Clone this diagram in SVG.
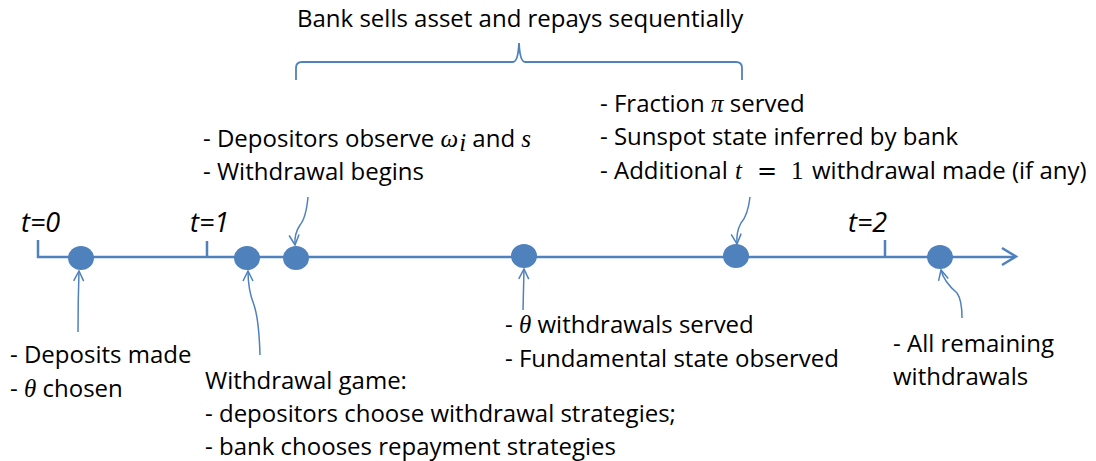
<svg xmlns="http://www.w3.org/2000/svg" width="1096" height="461" viewBox="0 0 1096 461">
<style>
text{font-family:"Open Sans","Liberation Sans",sans-serif;font-size:24px;fill:#000}
.m{font-family:"Liberation Serif","DejaVu Serif",serif;font-style:italic;font-size:25px}
.mu{font-family:"Liberation Serif","DejaVu Serif",serif;font-size:25px}
.eq{font-family:"DejaVu Serif",serif;font-size:24px}
.tl{font-style:italic;font-size:27px}
.ax{stroke:#4F81BD;stroke-width:2.5;fill:none}
.ar{stroke:#4F81BD;stroke-width:1.5;fill:none;marker-end:url(#ah)}
.dot{fill:#4F81BD}
</style>
<defs>
<marker id="ah" viewBox="0 0 12 12" refX="11" refY="6" markerWidth="12" markerHeight="12" markerUnits="userSpaceOnUse" orient="auto">
<path d="M1,1 L11,6 L1,11" fill="none" stroke="#4F81BD" stroke-width="1.5"/>
</marker>
</defs>
<g id="axis">
<path class="ax" d="M38,240 V257 H1015"/>
<path class="ax" d="M207,241 V257 M885,240 V256"/>
<path class="ax" d="M1002,248 L1016,256.5 L1002,265"/>
</g>
<g id="brace">
<path d="M296,80 V68 Q296,62 302,62 H513 Q518,62 519,43 Q520,62 525,62 H736 Q742,62 742,68 V80" fill="none" stroke="#4F81BD" stroke-width="1.8"/>
<text x="297" y="27">Bank sells asset and repays sequentially</text>
</g>
<g id="labels">
<text class="tl" x="21" y="232">t=0</text>
<text class="tl" x="190" y="232">t=1</text>
<text class="tl" x="848" y="232">t=2</text>
</g>
<g id="n1"><ellipse class="dot" cx="81" cy="258" rx="13" ry="12"/>
<text x="10" y="363">- Deposits made</text>
<text x="10" y="397">- <tspan class="m">θ</tspan> chosen</text></g>
<g id="n2"><ellipse class="dot" cx="247" cy="258" rx="13" ry="12"/>
<text x="205" y="389">Withdrawal game:</text>
<text x="205" y="422">- depositors choose withdrawal strategies;</text>
<text x="205" y="455">- bank chooses repayment strategies</text></g>
<g id="n3"><ellipse class="dot" cx="296" cy="258" rx="13" ry="12"/>
<text x="203" y="147">- Depositors observe <tspan class="m">ω</tspan><tspan class="m" font-size="17" dy="4" dx="1">i</tspan><tspan dy="-4"> and </tspan><tspan class="m">s</tspan></text>
<text x="203" y="180">- Withdrawal begins</text></g>
<g id="n4"><ellipse class="dot" cx="524" cy="256" rx="13" ry="12"/>
<text x="505" y="333">- <tspan class="m">θ</tspan> withdrawals served</text>
<text x="505" y="367">- Fundamental state observed</text></g>
<g id="n5"><ellipse class="dot" cx="736" cy="256" rx="13" ry="12"/>
<text x="600" y="112">- Fraction <tspan class="m">π</tspan> served</text>
<text x="600" y="145">- Sunspot state inferred by bank</text>
<text x="600" y="179">- Additional <tspan class="m" x="735">t</tspan><tspan class="eq" x="757">=</tspan><tspan class="mu" x="791">1</tspan><tspan x="812">withdrawal made (if any)</tspan></text></g>
<g id="n6"><ellipse class="dot" cx="940" cy="257" rx="13" ry="12"/>
<text x="893" y="352">- All remaining</text>
<text x="893" y="385">withdrawals</text></g>
<g id="connectors">
<path class="ar" d="M78,332 Q78,300 79,271"/>
<path class="ar" d="M260,355 Q259,320 254,305 Q248,290 248,271"/>
<path class="ar" d="M308,197 Q306,218 300,225 Q294,234 295,245"/>
<path class="ar" d="M523,310 L524,269"/>
<path class="ar" d="M750,197 Q748,215 741,223 Q736,232 737,244"/>
<path class="ar" d="M962,318 Q962,300 957,293 Q944,282 941,270"/>
</g>
</svg>
